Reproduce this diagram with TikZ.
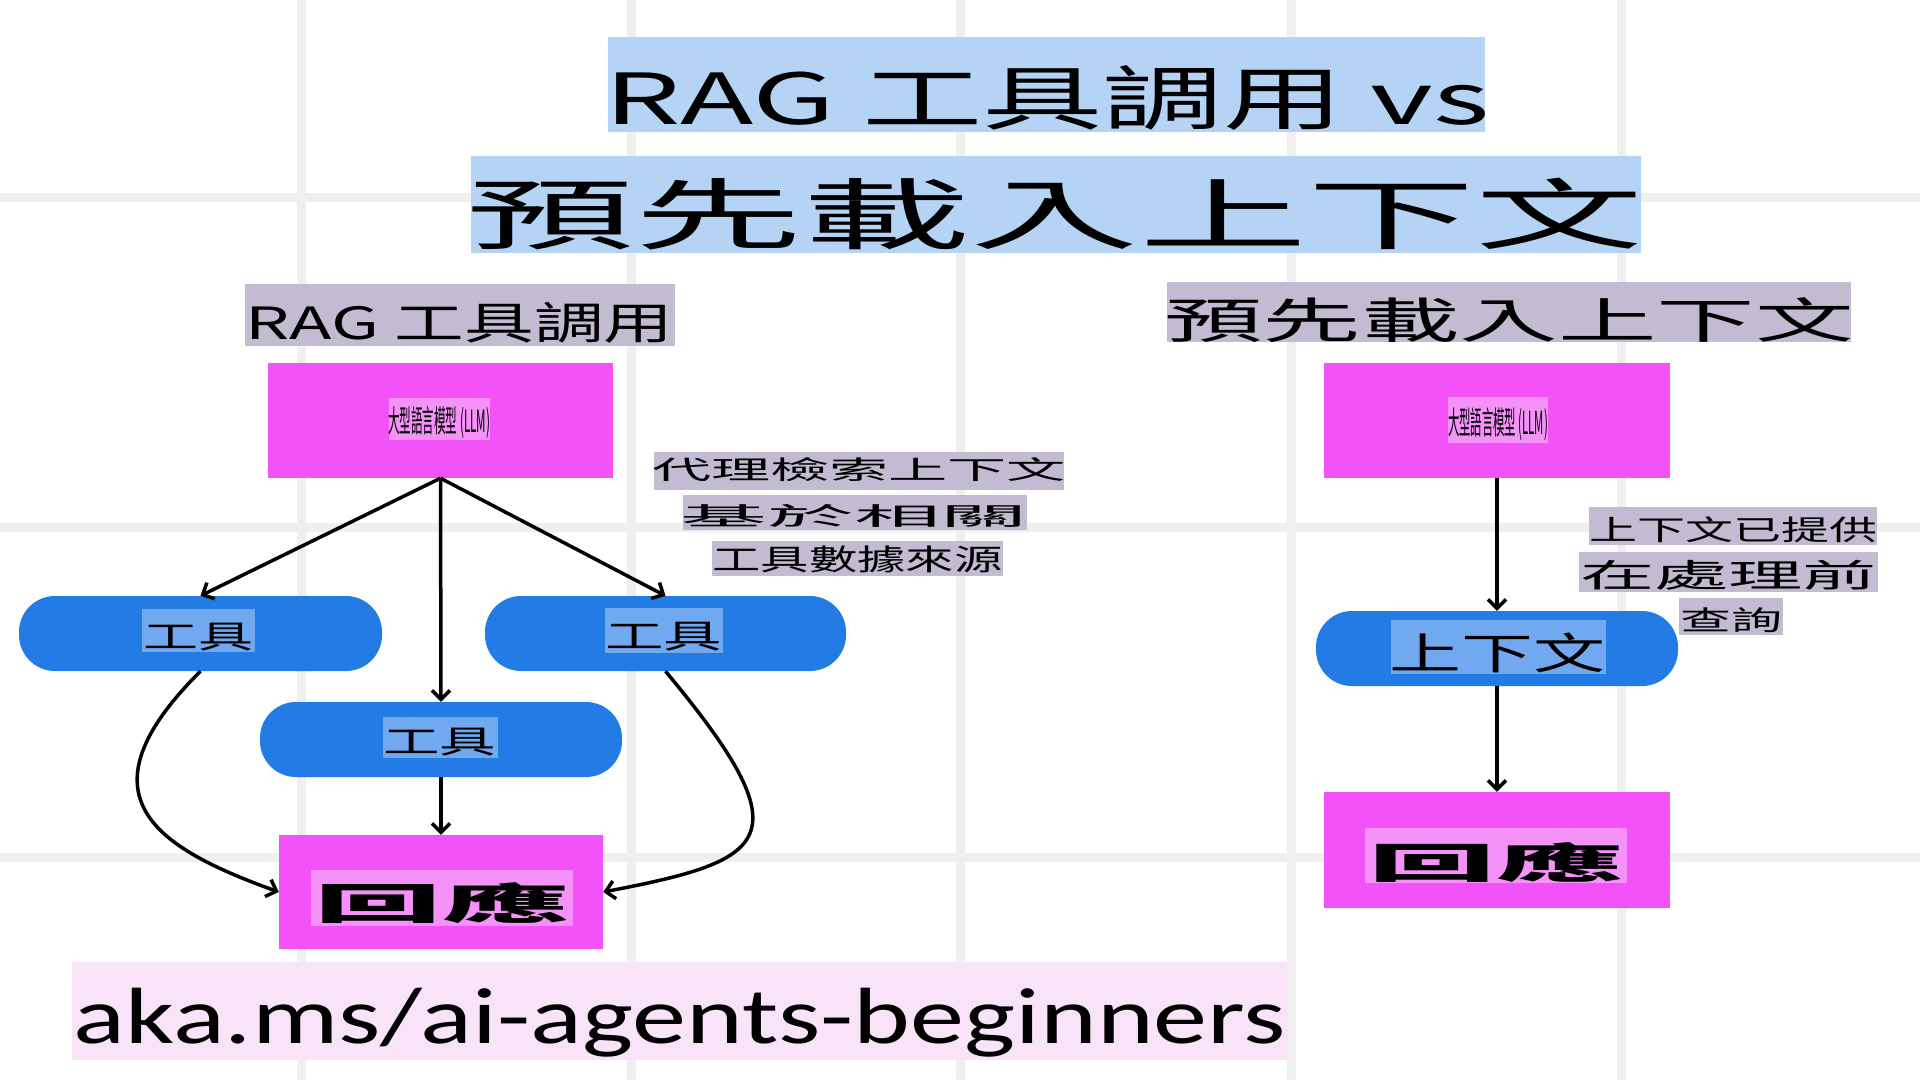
\documentclass[tikz,border=0pt]{standalone}
\usepackage{fontspec}
\usepackage{graphicx}
\usetikzlibrary{arrows.meta}
\newfontfamily\cjk{Noto Sans CJK TC}
\newfontfamily\latinc{Carlito}
\definecolor{gridc}{HTML}{EFEFEF}
\definecolor{magc}{HTML}{F252F8}
\definecolor{maglbl}{HTML}{F592F9}
\definecolor{bluec}{HTML}{237BE6}
\definecolor{bluelbl}{HTML}{70A9F0}
\definecolor{titlec}{HTML}{B5D3F4}
\definecolor{lavc}{HTML}{C2BBD1}
\definecolor{footc}{HTML}{F8E3F8}
\newcommand\fitt[3]{\resizebox*{#1pt}{#2pt}{\cjk #3}}
\begin{document}
\begin{tikzpicture}[x=1pt,y=-1pt,
  magbox/.style={rectangle,fill=magc,draw=none,inner sep=0pt},
  pill/.style={rectangle,rounded corners=36pt,fill=bluec,draw=none,inner sep=0pt,minimum height=75pt},
  txt/.style={inner sep=0pt,text=black},
  conn/.style={line width=3.5pt,-{Straight Barb[length=9pt,width=18pt]}},
  gridline/.style={gridc,line width=9pt}]
\useasboundingbox (0,0) rectangle (1920,1080);
\fill[white] (0,0) rectangle (1920,1080);
% grid
\foreach \gx in {301,631,960,1291,1621} \draw[gridline] (\gx,0) -- (\gx,1080);
\foreach \gy in {197,527,857} \draw[gridline] (0,\gy) -- (1920,\gy);

% titles
\fill[titlec] (608,37) rectangle (1485,132);
\node[txt] (title1) at (1047,97.5) {\fitt{885}{65}{RAG 工具調用 vs}};
\fill[titlec] (471,156) rectangle (1641,253);
\node[txt] (title2) at (1055,214) {\fitt{1177}{72}{預先載入上下文}};
\fill[lavc] (245,284) rectangle (675,346);
\node[txt] (subL) at (459.5,322.5) {\fitt{428}{41}{RAG 工具調用}};
\fill[lavc] (1167,282) rectangle (1851,342);
\node[txt] (subR) at (1509,320.5) {\fitt{690}{45}{預先載入上下文}};

% main shapes
\node[magbox,minimum width=345pt,minimum height=115pt] (llmL) at (440.5,420.5) {};
\node[magbox,minimum width=346pt,minimum height=115pt] (llmR) at (1497,420.5) {};
\node[pill,minimum width=363pt] (toolL) at (200.5,633.5) {};
\node[pill,minimum width=361pt] (toolR) at (665.5,633.5) {};
\node[pill,minimum width=362pt] (toolM) at (441,739.5) {};
\node[magbox,minimum width=324pt,minimum height=114pt] (respL) at (441,892) {};
\node[pill,minimum width=362pt] (ctx) at (1497,648.5) {};
\node[magbox,minimum width=346pt,minimum height=116pt] (respR) at (1497,850) {};

% labels inside shapes
\fill[maglbl] (389,398) rectangle (490,440);
\node[txt] (llmLt) at (439,423) {\fitt{102}{32}{大型語言模型 (LLM)}};
\fill[maglbl] (1448,397) rectangle (1548,443);
\node[txt] (llmRt) at (1498,424.5) {\fitt{100}{33}{大型語言模型 (LLM)}};
\fill[bluelbl] (142,609) rectangle (255,652);
\node[txt] (toolLt) at (198.5,637) {\fitt{110}{28}{工具}};
\fill[bluelbl] (605,608) rectangle (723,653);
\node[txt] (toolRt) at (663.5,636.5) {\fitt{117}{29}{工具}};
\fill[bluelbl] (383,717) rectangle (498,758);
\node[txt] (toolMt) at (439.5,742) {\fitt{113}{28}{工具}};
\fill[maglbl] (311,870) rectangle (573,926);
\node[txt] (respLt) at (442,903.5) {\fitt{255}{41}{\bfseries 回應}};
\fill[bluelbl] (1391,620) rectangle (1606,674);
\node[txt] (ctxt) at (1497.5,653) {\fitt{216}{40}{上下文}};
\fill[maglbl] (1365,828) rectangle (1627,883);
\node[txt] (respRt) at (1496,862) {\fitt{255}{40}{\bfseries 回應}};

% annotations
\fill[lavc] (654,452) rectangle (1064,490);
\node[txt] (noteL1) at (859,470) {\fitt{414}{24}{代理檢索上下文}};
\fill[lavc] (683,495) rectangle (1027,530);
\node[txt] (noteL2) at (854,516.5) {\fitt{347}{23}{基於相關}};
\fill[lavc] (712,541) rectangle (1003,576);
\node[txt] (noteL3) at (857.5,559.5) {\fitt{290}{27}{工具數據來源}};
\fill[lavc] (1589,507) rectangle (1877,545);
\node[txt] (noteR1) at (1733.5,530) {\fitt{288}{26}{上下文已提供}};
\fill[lavc] (1579,552) rectangle (1878,592);
\node[txt] (noteR2) at (1728.5,575) {\fitt{297}{30}{在處理前}};
\fill[lavc] (1679,598) rectangle (1783,635);
\node[txt] (noteR3) at (1731,620.5) {\fitt{102}{25}{查詢}};

% footer
\fill[footc] (72,962) rectangle (1288,1060);
\node[txt] (foot) at (680,1022.5) {\resizebox*{1212pt}{69pt}{\latinc aka.ms/ai-agents-beginners}};

% connectors
\draw[conn] (llmL.south) -- (toolL.north);
\draw[conn] (llmL.south) -- (toolM.north);
\draw[conn] (llmL.south) -- (toolR.north);
\draw[conn] (toolM.south) -- (respL.north);
\draw[conn] (toolL.south) .. controls (74,797) and (157,848) .. (respL.west);
\draw[conn] (toolR.south) .. controls (806,840) and (770,860) .. (respL.east);
\draw[conn] (llmR.south) -- (ctx.north);
\draw[conn] (ctx.south) -- (respR.north);
\end{tikzpicture}
\end{document}
